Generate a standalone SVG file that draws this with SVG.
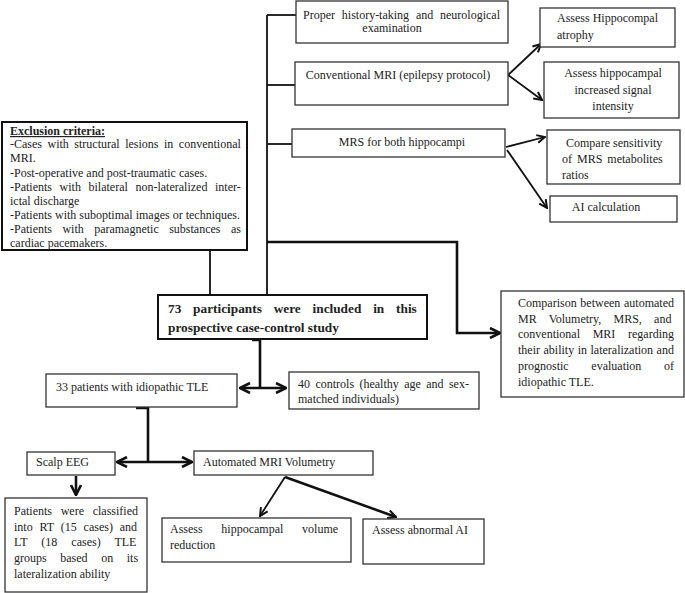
<svg xmlns="http://www.w3.org/2000/svg" width="685" height="593" viewBox="0 0 685 593">
<defs>
<style>
text{font-family:"Liberation Serif","Times New Roman",serif;font-size:12px;fill:#222;}
.b{font-weight:bold;font-size:13.3px;}
.box{fill:#fff;stroke:#333;stroke-width:1.3;}
.thick{fill:#fff;stroke:#111;stroke-width:2;}
.ln{fill:none;stroke:#111;stroke-width:1.8;}
.tln{fill:none;stroke:#111;stroke-width:2.6;}
.m{text-anchor:middle;}
</style>
<marker id="ah" viewBox="0 0 10 10" refX="9" refY="5" markerWidth="10" markerHeight="10" markerUnits="userSpaceOnUse" orient="auto-start-reverse">
<path d="M1,1 L9,5 L1,9" fill="none" stroke="#111" stroke-width="2"/>
</marker>
<marker id="ahb" viewBox="0 0 12 12" refX="11" refY="6" markerWidth="12" markerHeight="12" markerUnits="userSpaceOnUse" orient="auto-start-reverse">
<path d="M1,1 L11,6 L1,11" fill="none" stroke="#111" stroke-width="2.6"/>
</marker>
</defs>

<g id="connectors">
<path class="ln" d="M267,15 L267,295"/>
<path class="ln" d="M267,15 L296,15"/>
<path class="ln" d="M267,85 L295,85"/>
<path class="ln" d="M267,144 L292,144"/>
<path class="ln" d="M210,250 L210,295"/>
<path class="tln" d="M267,242 L457,242 L457,333 L500,333" marker-end="url(#ahb)"/>
<path class="ln" d="M508,75 L541,44" marker-end="url(#ah)"/>
<path class="ln" d="M508,75 L542,100" marker-end="url(#ah)"/>
<path class="ln" d="M506,147 L545,137" marker-end="url(#ah)"/>
<path class="ln" d="M507,150 L547,208" marker-end="url(#ah)"/>
<path class="tln" d="M252,340 L260,340 L260,388"/>
<path class="tln" d="M240,388 L286,388" marker-start="url(#ahb)" marker-end="url(#ahb)"/>
<path class="tln" d="M136,408 L148,408 L148,462"/>
<path class="tln" d="M117,462 L192,462" marker-start="url(#ahb)" marker-end="url(#ahb)"/>
<path class="tln" d="M76,476 L76,495" marker-end="url(#ahb)"/>
<path class="ln" d="M285,477 L260,516" marker-end="url(#ah)"/>
<path class="tln" d="M285,477 L396,517" marker-end="url(#ah)"/>
</g>

<g id="history">
<rect class="box" x="296" y="1" width="212" height="42"/>
<text x="303" y="19" word-spacing="3.8">Proper history-taking and neurological</text>
<text x="392" y="32" class="m">examination</text>
</g>

<g id="conventional">
<rect class="box" x="295" y="62" width="213" height="43"/>
<text x="398" y="79" class="m">Conventional MRI (epilepsy protocol)</text>
</g>

<g id="mrs">
<rect class="box" x="292" y="129" width="213" height="28"/>
<text x="402" y="146" class="m">MRS for both hippocampi</text>
</g>

<g id="atrophy">
<rect class="box" x="540" y="8" width="135" height="39"/>
<text x="557" y="22">Assess Hippocompal</text>
<text x="557" y="39">atrophy</text>
</g>

<g id="signal">
<rect class="box" x="544" y="62" width="135" height="56"/>
<text x="613" y="77" class="m">Assess hippocampal</text>
<text x="613" y="94" class="m">increased signal</text>
<text x="613" y="110" class="m">intensity</text>
</g>

<g id="compare">
<rect class="box" x="547" y="130" width="133" height="54"/>
<text x="566" y="147">Compare sensitivity</text>
<text x="562" y="163" word-spacing="2">of MRS metabolites</text>
<text x="562" y="179">ratios</text>
</g>

<g id="ai">
<rect class="box" x="550" y="196" width="127" height="26"/>
<text x="606" y="211" class="m">AI calculation</text>
</g>

<g id="exclusion">
<rect class="thick" x="2" y="122" width="245" height="128"/>
<text x="10" y="135" font-weight="bold" text-decoration="underline">Exclusion criteria:</text>
<text x="10" y="148" word-spacing="2.5">-Cases with structural lesions in conventional</text>
<text x="10" y="162">MRI.</text>
<text x="10" y="177">-Post-operative and post-traumatic cases.</text>
<text x="10" y="191" word-spacing="4.6">-Patients with bilateral non-lateralized inter-</text>
<text x="10" y="205">ictal discharge</text>
<text x="10" y="219">-Patients with suboptimal images or techniques.</text>
<text x="10" y="233" word-spacing="7.4">-Patients with paramagnetic substances as</text>
<text x="10" y="247">cardiac pacemakers.</text>
</g>

<g id="participants">
<rect class="thick" x="158" y="295" width="269" height="44"/>
<text class="b" x="168" y="313" word-spacing="8.5">73 participants were included in this</text>
<text class="b" x="168" y="332">prospective case-control study</text>
</g>

<g id="comparison">
<rect class="box" x="501" y="291" width="183" height="106"/>
<text x="518" y="307" word-spacing="0.7">Comparison between automated</text>
<text x="518" y="323" word-spacing="9.2">MR Volumetry, MRS, and</text>
<text x="518" y="338" word-spacing="9.7">conventional MRI regarding</text>
<text x="518" y="354" word-spacing="0.5">their ability in lateralization and</text>
<text x="518" y="370" word-spacing="19.7">prognostic evaluation of</text>
<text x="518" y="386">idiopathic TLE.</text>
</g>

<g id="patients">
<rect class="box" x="46" y="374" width="191" height="33"/>
<text x="56" y="391">33 patients with idiopathic TLE</text>
</g>

<g id="controls">
<rect class="box" x="289" y="372" width="190" height="37"/>
<text x="298" y="388" word-spacing="2.4">40 controls (healthy age and sex-</text>
<text x="298" y="403">matched individuals)</text>
</g>

<g id="eeg">
<rect class="box" x="27" y="452" width="88" height="23"/>
<text x="36" y="466">Scalp EEG</text>
</g>

<g id="volumetry">
<rect class="box" x="194" y="451" width="179" height="24"/>
<text x="203" y="466">Automated MRI Volumetry</text>
</g>

<g id="classified">
<rect class="box" x="5" y="498" width="142" height="94"/>
<text x="14" y="515" word-spacing="5.7">Patients were classified</text>
<text x="14" y="531" word-spacing="3.85">into RT (15 cases) and</text>
<text x="14" y="546" word-spacing="11">LT (18 cases) TLE</text>
<text x="14" y="562" word-spacing="10.6">groups based on its</text>
<text x="14" y="578">lateralization ability</text>
</g>

<g id="volume">
<rect class="box" x="162" y="518" width="189" height="44"/>
<text x="170" y="533" word-spacing="15.7">Assess hippocampal volume</text>
<text x="170" y="549">reduction</text>
</g>

<g id="abnormal">
<rect class="box" x="363" y="519" width="121" height="45"/>
<text x="372" y="534">Assess abnormal AI</text>
</g>
</svg>
